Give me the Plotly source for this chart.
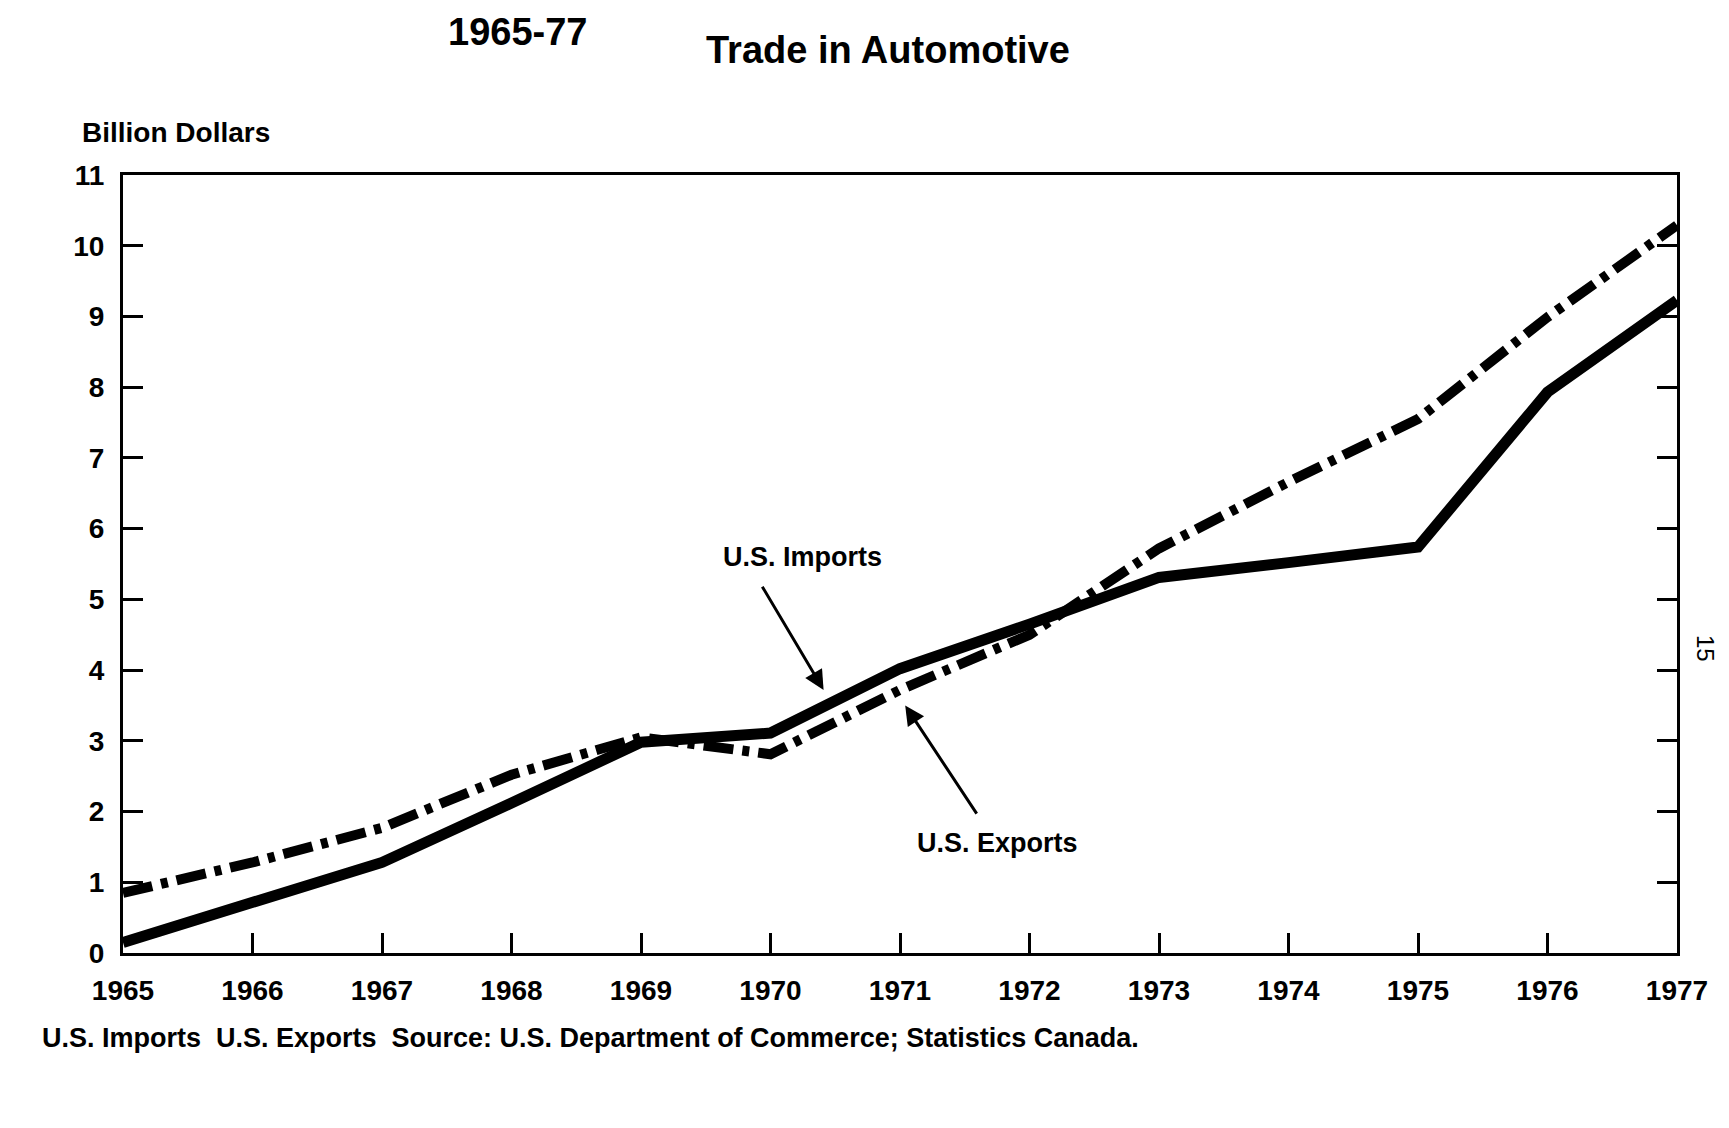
import plotly.graph_objects as go

# ---- data (billion dollars) ----
years = [1965, 1966, 1967, 1968, 1969, 1970, 1971, 1972, 1973, 1974, 1975, 1976, 1977]
us_imports = [0.15, 0.70, 1.28, 2.12, 2.98, 3.11, 4.02, 4.65, 5.31, 5.52, 5.74, 7.93, 9.23]
us_exports = [0.85, 1.28, 1.77, 2.52, 3.05, 2.81, 3.72, 4.50, 5.72, 6.66, 7.55, 8.99, 10.29]
y_ticks = list(range(0, 12))
x_tick_labels = [str(y) for y in years]

FONT = "Liberation Sans, Arial, Helvetica, sans-serif"
W, H = 1729, 1128
L, R, T, B = 115, 60, 167, 183
pw, ph = W - L - R, H - T - B


def px_x(p):
    return (p - L) / pw


def px_y(p):
    return (H - B - p) / ph


fig = go.Figure()
fig.add_trace(go.Scatter(
    x=years, y=us_exports, mode="lines", name="U.S. Exports",
    line=dict(color="black", width=10, dash="30px,9px,7px,9px"),
))
fig.add_trace(go.Scatter(
    x=years, y=us_imports, mode="lines", name="U.S. Imports",
    line=dict(color="black", width=11),
))

annotations = [
    dict(text="Billion Dollars", xref="paper", yref="paper", x=px_x(72), y=px_y(142),
         xanchor="left", yanchor="bottom", showarrow=False,
         font=dict(family=FONT, size=28, color="black", weight="bold")),
    dict(text="1965-77", xref="paper", yref="paper", x=px_x(510), y=px_y(24),
         xanchor="center", yanchor="middle", showarrow=False,
         font=dict(family=FONT, size=38, color="black", weight="bold")),
    dict(text="Trade in Automotive", xref="paper", yref="paper", x=px_x(880), y=px_y(42),
         xanchor="center", yanchor="middle", showarrow=False,
         font=dict(family=FONT, size=38, color="black", weight="bold")),
    dict(text="U.S. Imports", xref="x", yref="y", x=1970.25, y=5.6,
         xanchor="center", yanchor="middle", showarrow=False,
         font=dict(family=FONT, size=27, color="black", weight="bold")),
    dict(text="", xref="x", yref="y", axref="x", ayref="y", x=1970.41, y=3.72,
         ax=1969.93, ay=5.2, showarrow=True, arrowhead=2, arrowsize=1.3,
         arrowwidth=3, arrowcolor="black"),
    dict(text="U.S. Exports", xref="x", yref="y", x=1971.75, y=1.55,
         xanchor="center", yanchor="middle", showarrow=False,
         font=dict(family=FONT, size=27, color="black", weight="bold")),
    dict(text="", xref="x", yref="y", axref="x", ayref="y", x=1971.04, y=3.5,
         ax=1971.6, ay=1.95, showarrow=True, arrowhead=2, arrowsize=1.3,
         arrowwidth=3, arrowcolor="black"),
    dict(text="U.S. Imports&nbsp;&nbsp;U.S. Exports&nbsp;&nbsp;Source: U.S. Department of Commerce; Statistics Canada.",
         xref="paper", yref="paper", x=px_x(32), y=px_y(1030),
         xanchor="left", yanchor="middle", showarrow=False,
         font=dict(family=FONT, size=27, color="black", weight="bold")),
    dict(text="15", xref="paper", yref="paper", x=px_x(1698), y=px_y(640),
         xanchor="center", yanchor="middle", showarrow=False, textangle=90,
         font=dict(family=FONT, size=24, color="black")),
]

fig.update_layout(
    width=W, height=H,
    margin=dict(l=L, r=R, t=T, b=B),
    paper_bgcolor="white", plot_bgcolor="white",
    showlegend=False,
    annotations=annotations,
    xaxis=dict(
        range=[1965, 1977], tickvals=years, ticktext=x_tick_labels,
        showgrid=False, zeroline=False,
        showline=True, linecolor="black", linewidth=3, mirror=True,
        ticks="inside", ticklen=20, tickwidth=3, tickcolor="black",
        ticklabelstandoff=10,
        tickfont=dict(family=FONT, size=28, color="black", weight="bold"),
        fixedrange=True,
    ),
    yaxis=dict(
        range=[0, 11], tickvals=y_ticks, ticktext=[str(v) for v in y_ticks],
        showgrid=False, zeroline=False,
        showline=True, linecolor="black", linewidth=3, mirror="ticks",
        ticks="inside", ticklen=20, tickwidth=3, tickcolor="black",
        ticklabelstandoff=10,
        tickfont=dict(family=FONT, size=28, color="black", weight="bold"),
        fixedrange=True,
    ),
)

fig.write_html("out.html")
